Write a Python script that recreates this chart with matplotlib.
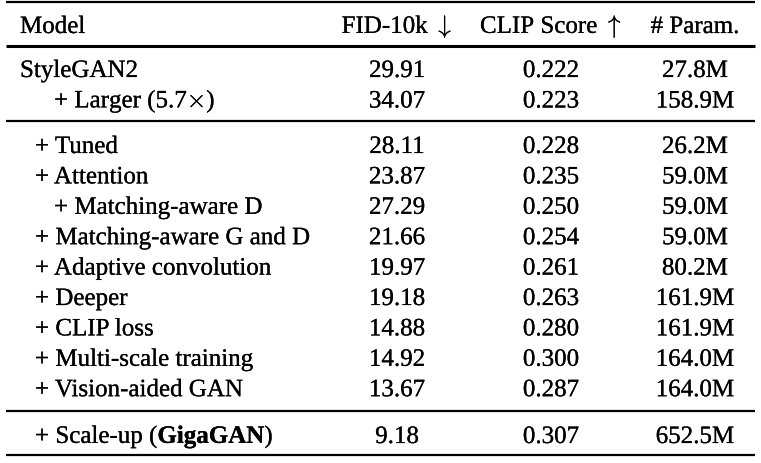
import matplotlib
matplotlib.use("Agg")
import matplotlib.pyplot as plt
import matplotlib.patheffects as pe

plt.rcParams['font.family'] = ['Liberation Serif', 'DejaVu Serif']
plt.rcParams['mathtext.fontset'] = 'custom'
plt.rcParams['mathtext.rm'] = 'Liberation Serif'
plt.rcParams['mathtext.bf'] = 'Liberation Serif:bold'

headers = ["Model", r"FID-10k $\downarrow$", r"CLIP Score $\uparrow$", "# Param."]
models = ["StyleGAN2", r"+ Larger (5.7$\times$)",
          "+ Tuned", "+ Attention", "+ Matching-aware D", "+ Matching-aware G and D",
          "+ Adaptive convolution", "+ Deeper", "+ CLIP loss", "+ Multi-scale training",
          "+ Vision-aided GAN",
          r"+ Scale-up ($\mathbf{GigaGAN}$)"]
indent = [0, 2, 1, 1, 2, 1, 1, 1, 1, 1, 1, 1]
fid = ["29.91", "34.07", "28.11", "23.87", "27.29", "21.66", "19.97", "19.18",
       "14.88", "14.92", "13.67", "9.18"]
clip = ["0.222", "0.223", "0.228", "0.235", "0.250", "0.254", "0.261", "0.263",
        "0.280", "0.300", "0.287", "0.307"]
params = ["27.8M", "158.9M", "26.2M", "59.0M", "59.0M", "59.0M", "80.2M", "161.9M",
          "161.9M", "164.0M", "164.0M", "652.5M"]

W, H = 761, 464
fig = plt.figure(figsize=(W / 100, H / 100), dpi=100)
ax = fig.add_axes([0, 0, 1, 1])
ax.set_xlim(0, W)
ax.set_ylim(H, 0)
ax.axis('off')

fs = 18
col_x = [20, 397, 551, 695]
indent_x = [20, 35, 54]
eff = [pe.withStroke(linewidth=0.15, foreground='black')]
kw = dict(fontsize=fs, va='baseline', color='black', path_effects=eff)

# header
ax.text(col_x[0], 34, headers[0], ha='left', **kw)
for j in range(1, 4):
    extra = {'math_fontfamily': 'cm'} if '$' in headers[j] else {}
    ax.text(col_x[j], 34, headers[j], ha='center', **kw, **extra)

baselines = [78, 108.5] + [154 + 30.4 * i for i in range(9)] + [444]
for i, m in enumerate(models):
    y = baselines[i]
    extra = {'math_fontfamily': 'cm'} if '\\times' in m else {}
    ax.text(indent_x[indent[i]], y, m, ha='left', **kw, **extra)
    ax.text(col_x[1], y, fid[i], ha='center', **kw)
    ax.text(col_x[2], y, clip[i], ha='center', **kw)
    ax.text(col_x[3], y, params[i], ha='center', **kw)

x0, x1 = 6, 755
for y, lw in [(3, 1.6), (46.5, 2.2), (122, 1.6), (412, 1.6), (455.5, 1.6)]:
    ax.plot([x0, x1], [y, y], color='black', lw=lw, solid_capstyle='butt')

fig.savefig("out.png", dpi=100)
